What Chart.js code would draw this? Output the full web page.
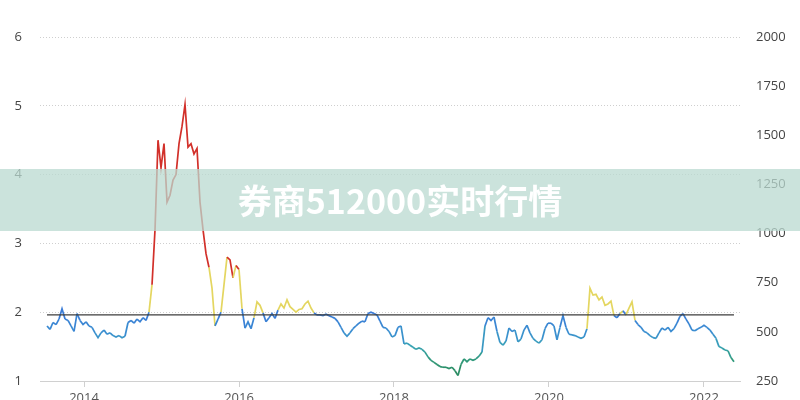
<!DOCTYPE html>
<html><head><meta charset="utf-8">
<script src="https://cdn.jsdelivr.net/npm/chart.js@4"></script>
<style>
html,body{margin:0;padding:0;background:#fff;overflow:hidden}
#wrap{position:relative;width:800px;height:400px}
#banner{position:absolute;left:0;top:169px;width:800px;height:62px;background:rgba(185,218,208,0.75);color:#fff;font-weight:bold;font-size:34px;font-family:"Noto Sans CJK SC","Noto Sans",sans-serif;text-align:center;line-height:62px;letter-spacing:0px}
</style></head><body>
<div id="wrap"><canvas id="c" width="800" height="400"></canvas><div id="banner">券商512000实时行情</div></div>
<script>
// ---- data ----
const startYear = 2013.5226;      // first observation
const stepYears = 0.03871;        // ~2 weeks between observations
const pbValues = [
1.80,1.75,1.85,1.82,1.90,2.05,1.90,1.88,1.80,1.72,
1.98,1.88,1.82,1.86,1.80,1.78,1.70,1.63,1.70,1.74,
1.68,1.70,1.66,1.64,1.66,1.63,1.65,1.85,1.88,1.84,
1.90,1.86,1.92,1.88,2.00,2.40,3.20,4.50,4.10,4.45,
3.60,3.70,3.92,4.00,4.45,4.70,5.02,4.40,4.45,4.30,
4.38,3.60,3.20,2.85,2.65,2.35,1.80,1.90,2.00,2.40,
2.80,2.76,2.50,2.68,2.62,2.05,1.77,1.86,1.76,1.92,
2.15,2.10,1.99,1.86,1.92,1.98,1.91,2.03,2.12,2.06,
2.18,2.08,2.04,2.00,2.04,2.05,2.12,2.16,2.06,1.99,
1.96,1.96,1.95,1.97,1.95,1.93,1.91,1.86,1.78,1.70,
1.65,1.70,1.76,1.80,1.84,1.87,1.86,1.98,2.00,1.98,
1.96,1.87,1.78,1.77,1.72,1.64,1.66,1.78,1.80,1.54,
1.55,1.52,1.49,1.46,1.48,1.46,1.42,1.35,1.30,1.27,
1.24,1.21,1.20,1.20,1.18,1.20,1.15,1.08,1.24,1.32,
1.28,1.32,1.30,1.32,1.36,1.42,1.80,1.92,1.88,1.93,
1.72,1.56,1.52,1.58,1.77,1.72,1.74,1.57,1.61,1.74,
1.81,1.70,1.62,1.58,1.55,1.60,1.76,1.84,1.84,1.80,
1.60,1.78,1.95,1.78,1.68,1.67,1.66,1.64,1.62,1.64,
1.76,2.35,2.25,2.26,2.18,2.22,2.10,2.12,2.16,1.95,
1.92,1.98,2.02,1.96,2.06,2.15,1.88,1.82,1.78,1.72,
1.70,1.66,1.63,1.62,1.70,1.77,1.74,1.78,1.72,1.76,
1.84,1.94,1.98,1.90,1.83,1.74,1.73,1.76,1.78,1.81,
1.78,1.74,1.68,1.62,1.50,1.48,1.45,1.44,1.34,1.28
];
const refLevel = 1.96;
const leftTicks = [1,2,3,4,5,6];
const rightTicks = [250,500,750,1000,1250,1500,1750,2000];
const yearTicks = [2014,2016,2018,2020,2022];

// ---- build ----
const pbPoints = pbValues.map((v,i)=>({x:startYear+i*stepYears, y:v}));
const lastX = startYear+(pbValues.length-1)*stepYears;
const refPoints = [{x:startYear,y:refLevel},{x:lastX,y:refLevel}];

function hex(c){return [parseInt(c.slice(1,3),16),parseInt(c.slice(3,5),16),parseInt(c.slice(5,7),16)];}
const lowStops = [[1.05,'#2a875a'],[1.3,'#2f9878'],[1.5,'#38a3b4'],[1.7,'#3a8fd0'],[2.0,'#3a7ad8']];
function colorFor(v){
  if(v>=2.6) return '#d2302a';
  if(v>=2.0) return '#e4d660';
  if(v<=lowStops[0][0]) return lowStops[0][1];
  for(let i=1;i<lowStops.length;i++){
    if(v<=lowStops[i][0]){
      const [a,ca]=lowStops[i-1],[b,cb]=lowStops[i];
      const t=(v-a)/(b-a), A=hex(ca), B=hex(cb);
      return 'rgb('+A.map((x,k)=>Math.round(x+(B[k]-x)*t)).join(',')+')';
    }
  }
  return lowStops[lowStops.length-1][1];
}

const tickFont = {family:'Open Sans',size:13};
new Chart(document.getElementById('c'),{
  type:'line',
  data:{datasets:[
    {data:refPoints,borderColor:'#3c3c3c',borderWidth:1.3,pointRadius:0,yAxisID:'y',order:0},
    {data:pbPoints,borderWidth:1.7,pointRadius:0,tension:0,yAxisID:'y',order:1,
     borderColor:'#3a7ad8',
     segment:{borderColor:ctx=>colorFor((ctx.p0.parsed.y+ctx.p1.parsed.y)/2)}}
  ]},
  options:{
    responsive:false,animation:false,
    layout:{padding:{top:37,bottom:0,left:0,right:0}},
    plugins:{legend:{display:false},tooltip:{enabled:false}},
    scales:{
      x:{type:'linear',min:2013.432,max:2022.465,
        afterBuildTicks:s=>{s.ticks=yearTicks.map(v=>({value:v}));},
        afterFit:s=>{s.height=19;},
        border:{display:true,color:'#d0d0d0',width:1},
        grid:{drawOnChartArea:false,drawTicks:true,tickLength:6,color:'#d0d0d0'},
        ticks:{color:'#555',font:tickFont,padding:3,maxRotation:0,
          callback:v=>String(v)}
      },
      y:{position:'left',min:1,max:6,
        afterBuildTicks:s=>{s.ticks=leftTicks.map(v=>({value:v}));},
        afterFit:s=>{s.width=40;s.paddingTop=0;s.paddingBottom=0;},
        border:{display:false,dash:[1,2]},
        grid:{drawTicks:false,color:ctx=>ctx.tick&&ctx.tick.value===1?'rgba(0,0,0,0)':'#cfcfcf'},
        ticks:{color:'#444',font:tickFont,padding:18,callback:v=>String(v)}
      },
      y2:{position:'right',display:true,min:250,max:2000,
        afterBuildTicks:s=>{s.ticks=rightTicks.map(v=>({value:v}));},
        afterFit:s=>{s.width=60;s.paddingTop=0;s.paddingBottom=0;},
        border:{display:false},
        grid:{display:false,drawTicks:false},
        ticks:{color:'#444',font:tickFont,padding:16,callback:v=>String(v)}
      }
    }
  }
});
</script>
</body></html>
